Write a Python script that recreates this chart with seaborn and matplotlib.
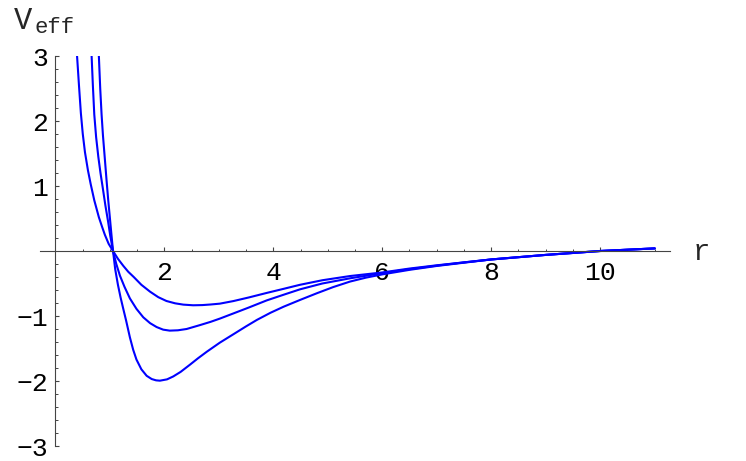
import matplotlib
matplotlib.use("Agg")
import matplotlib.pyplot as plt
import seaborn as sns
import pandas as pd
from matplotlib.ticker import FixedLocator, MultipleLocator

# values (three curves, shallow -> deep)
r_a = [0.40, 0.435, 0.47, 0.505, 0.545, 0.60, 0.65, 0.716, 0.80, 0.86, 0.91, 0.98,
       1.06, 1.15, 1.25, 1.34, 1.44, 1.58, 1.74, 1.89, 2.04, 2.20, 2.35, 2.53, 2.70,
       2.85, 3.02, 3.27, 3.55, 3.88, 4.20, 4.49, 4.90, 5.41, 6.0, 6.5, 7.0, 7.5, 8.0,
       8.5, 9.0, 9.5, 10.0, 10.5, 11.0]
v_a = [3.0, 2.55, 2.12, 1.80, 1.52, 1.24, 1.03, 0.78, 0.52, 0.37, 0.25, 0.11,
       0.0, -0.12, -0.23, -0.32, -0.40, -0.52, -0.626, -0.71, -0.769, -0.805, -0.825, -0.835, -0.832,
       -0.823, -0.81, -0.77, -0.715, -0.645, -0.58, -0.52, -0.45, -0.385, -0.33, -0.27, -0.22, -0.175, -0.13,
       -0.095, -0.06, -0.03, 0.0, 0.02, 0.04]

r_b = [0.667, 0.69, 0.716, 0.75, 0.79, 0.83, 0.87, 0.92, 0.97, 1.01, 1.06, 1.12,
       1.187, 1.27, 1.37, 1.49, 1.615, 1.74, 1.86, 1.98, 2.10, 2.25, 2.41, 2.655, 2.85,
       3.02, 3.27, 3.55, 3.88, 4.20, 4.49, 4.90, 5.41, 6.0, 6.5, 7.0, 7.5, 8.0,
       8.5, 9.0, 9.5, 10.0, 10.5, 11.0]
v_b = [3.0, 2.55, 2.10, 1.75, 1.45, 1.20, 0.98, 0.70, 0.45, 0.23, 0.0, -0.20,
       -0.38, -0.55, -0.73, -0.89, -1.02, -1.11, -1.17, -1.21, -1.225, -1.22, -1.20, -1.14, -1.09,
       -1.04, -0.96, -0.87, -0.76, -0.67, -0.59, -0.50, -0.42, -0.34, -0.28, -0.225, -0.175, -0.13,
       -0.095, -0.06, -0.03, 0.0, 0.02, 0.04]

r_c = [0.80, 0.825, 0.85, 0.875, 0.90, 0.94, 0.97, 1.00, 1.03, 1.06, 1.10, 1.15,
       1.20, 1.248, 1.30, 1.37, 1.43, 1.49, 1.58, 1.677, 1.77, 1.85, 1.92, 2.05, 2.165,
       2.30, 2.47, 2.62, 2.78, 3.02, 3.27, 3.50, 3.70, 3.95, 4.19, 4.50, 4.80, 5.10,
       5.41, 5.70, 6.0, 6.5, 7.0, 7.5, 8.0, 8.5, 9.0, 9.5, 10.0, 10.5, 11.0]
v_c = [3.0, 2.50, 2.10, 1.78, 1.52, 1.10, 0.80, 0.53, 0.26, 0.0, -0.28, -0.52,
       -0.72, -0.89, -1.07, -1.33, -1.52, -1.67, -1.82, -1.92, -1.97, -1.99, -1.995, -1.975, -1.93,
       -1.86, -1.75, -1.65, -1.55, -1.41, -1.28, -1.16, -1.06, -0.95, -0.857, -0.75, -0.65, -0.555,
       -0.47, -0.41, -0.36, -0.29, -0.23, -0.18, -0.13, -0.095, -0.06, -0.03, 0.0, 0.02, 0.04]

x_ticks = [2, 4, 6, 8, 10]
y_ticks = [-3, -2, -1, 1, 2, 3]

sns.set_style("white")
plt.rcParams['font.family'] = ['Liberation Mono', 'DejaVu Sans Mono']

fig = plt.figure(figsize=(7.46, 4.61), dpi=100)
ax = fig.add_axes([40 / 746, 15 / 461, 630 / 746, 390 / 461])

for rr, vv in [(r_a, v_a), (r_b, v_b), (r_c, v_c)]:
    df = pd.DataFrame({'r': rr, 'V': vv})
    sns.lineplot(data=df, x='r', y='V', sort=False, estimator=None,
                 color='#0000ff', lw=1.5, ax=ax)

ax.set_xlim(-0.28, 11.28)
ax.set_ylim(-3, 3)
ax.set_xlabel('')
ax.set_ylabel('')

for s in ['top', 'right']:
    ax.spines[s].set_visible(False)
ax.spines['left'].set_position(('data', 0))
ax.spines['bottom'].set_position(('data', 0))
for s in ['left', 'bottom']:
    ax.spines[s].set_color('#444444')
    ax.spines[s].set_linewidth(0.8)

ax.xaxis.set_major_locator(FixedLocator(x_ticks))
ax.xaxis.set_minor_locator(MultipleLocator(0.5))
ax.yaxis.set_major_locator(FixedLocator(y_ticks))
ax.yaxis.set_minor_locator(MultipleLocator(0.2))
ax.set_xticklabels([str(t) for t in x_ticks])
ax.set_yticklabels(['\u2212' + str(-t) if t < 0 else str(t) for t in y_ticks])

ax.tick_params(axis='both', which='both', bottom=True, left=True, top=False, right=False)
ax.tick_params(axis='both', which='major', direction='in', length=3, width=0.8,
               color='#444444', labelsize=19, labelcolor='black')
ax.tick_params(axis='both', which='minor', direction='in', length=1.8, width=0.7,
               color='#444444')
ax.tick_params(axis='x', which='major', pad=7)
ax.tick_params(axis='y', which='major', pad=5)

fig.text(14 / 746, 1 - 29 / 461, 'V', fontsize=22, ha='left', va='baseline')
fig.text(35 / 746, 1 - 33 / 461, 'eff', fontsize=16, ha='left', va='baseline')
fig.text(693 / 746, 1 - 260 / 461, 'r', fontsize=21, ha='left', va='baseline')

fig.savefig('out.png', dpi=100)
plt.close(fig)
